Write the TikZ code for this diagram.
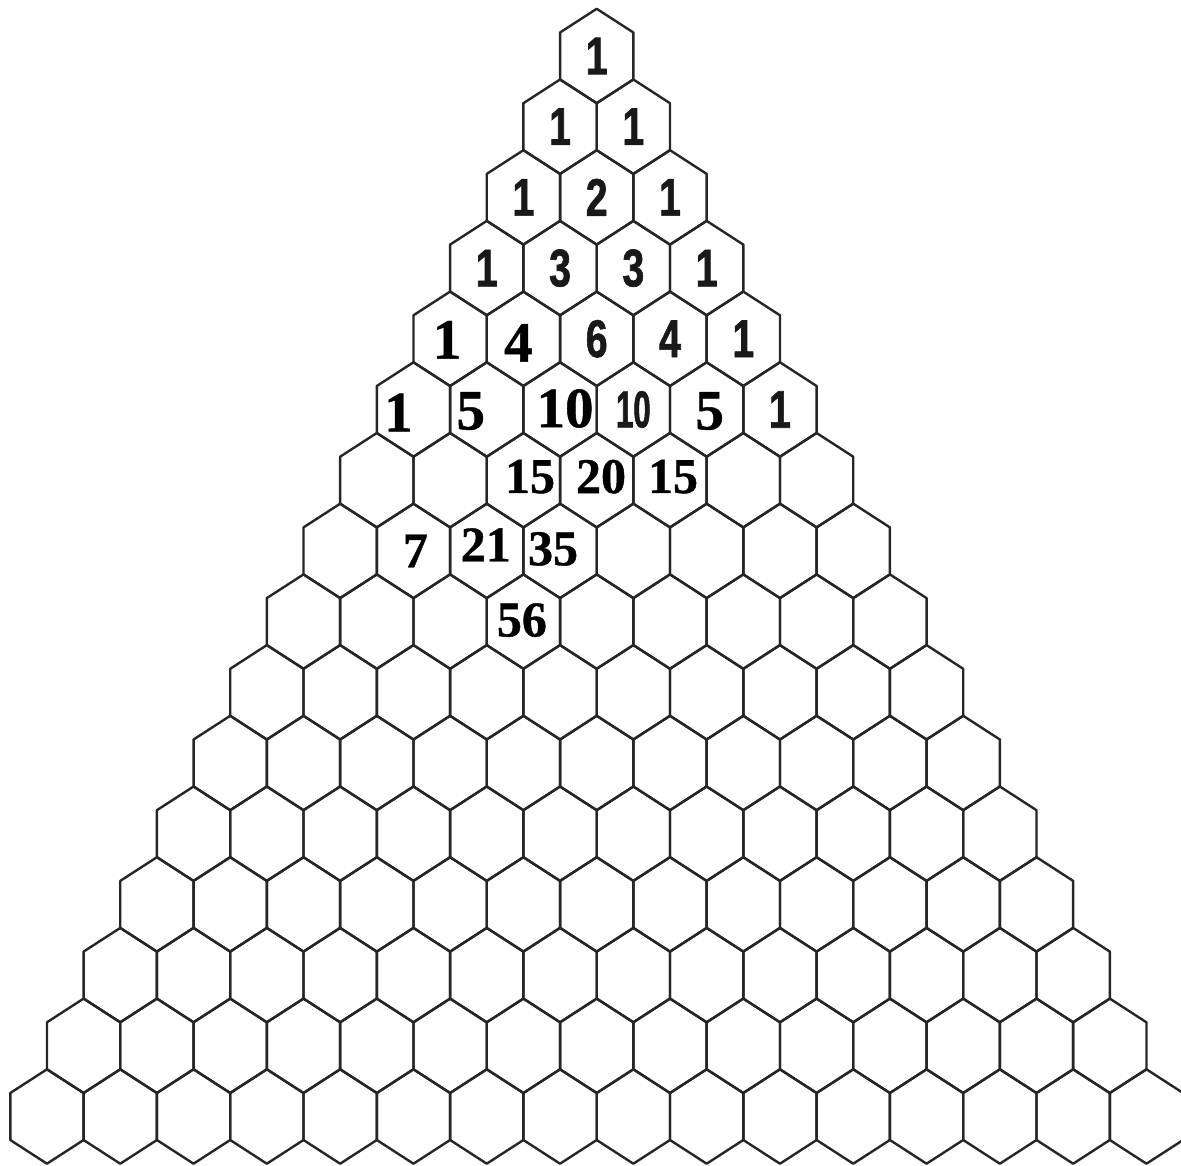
\documentclass[tikz,border=0pt]{standalone}
\usepackage{fontspec}
\newfontfamily\hexsans[FakeStretch=0.74,FakeBold=1.2]{Liberation Sans}
\newfontfamily\hexsanscn[FakeStretch=0.6,FakeBold=1.2]{Liberation Sans}
\newfontfamily\hexserif[FakeBold=0.8]{Liberation Serif}
\newcommand{\hexdx}{73.3}   % cell width
\newcommand{\hexdy}{70.7}   % row pitch
\usetikzlibrary{calc}

\begin{document}
\begin{tikzpicture}[
  x=1pt, y=-1pt,
  hexline/.style={draw=black!85, line width=2.4pt, line join=round},
  sansnum/.style={font=\hexsans\bfseries\fontsize{53}{53}\selectfont,
                  text=black!90, inner sep=0pt},
  sanscn/.style={font=\hexsanscn\bfseries\fontsize{52}{52}\selectfont,
                 text=black!90, inner sep=0pt},
  serifbig/.style={font=\hexserif\bfseries\fontsize{57}{57}\selectfont,
                   inner sep=0pt},
  serifmid/.style={font=\hexserif\bfseries\fontsize{50}{50}\selectfont,
                   inner sep=0pt}
]
\useasboundingbox[fill=white] (0,0) rectangle (1181,1166);
% ---------------- hexagon grid ----------------
\foreach \r in {0,...,15} {
  \foreach \k in {0,...,\r} {
    \coordinate (c-\r-\k) at ({596.7+(\k-\r/2)*\hexdx},{56+\r*\hexdy});
    \draw[hexline] ($(c-\r-\k)+(0,-47.2)$) -- ++(36.65,23.7) -- ++(0,47)
      -- ++(-36.65,23.7) -- ++(-36.65,-23.7) -- ++(0,-47) -- cycle;
  }
}
% ---------------- printed numbers ----------------
\foreach \r/\k/\t in {0/0/1, 1/0/1, 1/1/1, 2/0/1, 2/1/2, 2/2/1,
    3/0/1, 3/1/3, 3/2/3, 3/3/1, 4/2/6, 4/3/4, 4/4/1, 5/5/1}
  \node[sansnum] (n-\r-\k) at (c-\r-\k) {\t};
\node[sanscn] (n-5-3) at (c-5-3) {10};
% ---------------- handwritten-in numbers ----------------
\foreach \r/\k/\dx/\dy/\t in {4/0/-3/1/1, 4/1/-5/4/4, 5/0/-15/3/1,
    5/1/-16/1.5/5, 5/2/5/-1/10, 5/4/3/1.5/5}
  \node[serifbig] (n-\r-\k) at ($(c-\r-\k)+(\dx,\dy)$) {\t};
\foreach \r/\k/\dx/\dy/\t in {6/2/6.6/-3.5/15, 6/3/4.3/-3.5/20,
    6/4/3/-3.5/15, 7/1/2/0/7, 7/2/-1/-6/21, 7/3/-7/-2/35, 8/3/-1.5/-1.5/56}
  \node[serifmid] (n-\r-\k) at ($(c-\r-\k)+(\dx,\dy)$) {\t};
\end{tikzpicture}
\end{document}
